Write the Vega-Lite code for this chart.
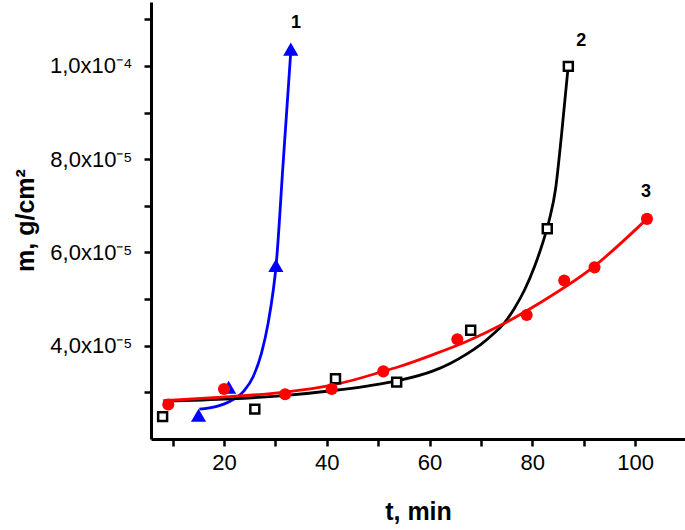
{
  "$schema": "https://vega.github.io/schema/vega-lite/v6.json",
  "width": 534,
  "height": 437,
  "autosize": {"type": "none"},
  "padding": {"left": 151, "top": 2, "right": 0, "bottom": 91},
  "background": "white",
  "config": {
    "view": {"stroke": null},
    "font": "Liberation Sans",
    "axis": {
      "grid": false,
      "domainColor": "black",
      "domainWidth": 3,
      "tickColor": "black",
      "tickWidth": 2.5,
      "tickSize": 7,
      "labelColor": "black",
      "labelFont": "Liberation Sans",
      "labelFontSize": 22,
      "titleFont": "Liberation Sans",
      "titleFontWeight": "bold",
      "titleColor": "black",
      "titleFontSize": 25
    }
  },
  "datasets": {
    "points": [
      {"series": "1", "t": 15.05, "m": 2.51e-5},
      {"series": "1", "t": 20.9, "m": 3.11e-5},
      {"series": "1", "t": 30.1, "m": 5.72e-5},
      {"series": "1", "t": 33.0, "m": 1.036e-4},
      {"series": "2", "t": 8.06, "m": 2.48e-5},
      {"series": "2", "t": 26.0, "m": 2.64e-5},
      {"series": "2", "t": 41.7, "m": 3.29e-5},
      {"series": "2", "t": 53.6, "m": 3.22e-5},
      {"series": "2", "t": 68.0, "m": 4.33e-5},
      {"series": "2", "t": 82.9, "m": 6.51e-5},
      {"series": "2", "t": 87.0, "m": 9.99e-5},
      {"series": "3", "t": 9.16, "m": 2.74e-5},
      {"series": "3", "t": 20.0, "m": 3.07e-5},
      {"series": "3", "t": 31.9, "m": 2.96e-5},
      {"series": "3", "t": 40.96, "m": 3.07e-5},
      {"series": "3", "t": 51.0, "m": 3.45e-5},
      {"series": "3", "t": 65.4, "m": 4.14e-5},
      {"series": "3", "t": 78.9, "m": 4.66e-5},
      {"series": "3", "t": 86.2, "m": 5.40e-5},
      {"series": "3", "t": 92.1, "m": 5.68e-5},
      {"series": "3", "t": 102.3, "m": 6.72e-5}
    ],
    "curves": [
      {"series": "1", "t": 15.2, "m": 2.64e-5},
      {"series": "1", "t": 18.6, "m": 2.70e-5},
      {"series": "1", "t": 21.2, "m": 2.81e-5},
      {"series": "1", "t": 23.8, "m": 3.02e-5},
      {"series": "1", "t": 25.7, "m": 3.34e-5},
      {"series": "1", "t": 27.3, "m": 3.84e-5},
      {"series": "1", "t": 28.6, "m": 4.49e-5},
      {"series": "1", "t": 29.6, "m": 5.20e-5},
      {"series": "1", "t": 30.1, "m": 5.67e-5},
      {"series": "1", "t": 31.5, "m": 7.90e-5},
      {"series": "1", "t": 33.0, "m": 1.031e-4},
      {"series": "2", "t": 8.2, "m": 2.81e-5},
      {"series": "2", "t": 21.2, "m": 2.86e-5},
      {"series": "2", "t": 31.5, "m": 2.93e-5},
      {"series": "2", "t": 41.3, "m": 3.04e-5},
      {"series": "2", "t": 47.5, "m": 3.13e-5},
      {"series": "2", "t": 54.3, "m": 3.26e-5},
      {"series": "2", "t": 60.7, "m": 3.46e-5},
      {"series": "2", "t": 64.0, "m": 3.62e-5},
      {"series": "2", "t": 67.2, "m": 3.82e-5},
      {"series": "2", "t": 70.0, "m": 4.03e-5},
      {"series": "2", "t": 72.5, "m": 4.26e-5},
      {"series": "2", "t": 74.4, "m": 4.47e-5},
      {"series": "2", "t": 76.5, "m": 4.80e-5},
      {"series": "2", "t": 78.5, "m": 5.20e-5},
      {"series": "2", "t": 80.5, "m": 5.72e-5},
      {"series": "2", "t": 82.0, "m": 6.20e-5},
      {"series": "2", "t": 83.3, "m": 6.70e-5},
      {"series": "2", "t": 84.5, "m": 7.35e-5},
      {"series": "2", "t": 85.7, "m": 8.55e-5},
      {"series": "2", "t": 86.9, "m": 9.91e-5},
      {"series": "3", "t": 8.2, "m": 2.82e-5},
      {"series": "3", "t": 21.2, "m": 2.91e-5},
      {"series": "3", "t": 31.5, "m": 3.00e-5},
      {"series": "3", "t": 41.3, "m": 3.16e-5},
      {"series": "3", "t": 51.0, "m": 3.45e-5},
      {"series": "3", "t": 54.3, "m": 3.56e-5},
      {"series": "3", "t": 60.7, "m": 3.81e-5},
      {"series": "3", "t": 67.2, "m": 4.09e-5},
      {"series": "3", "t": 74.4, "m": 4.47e-5},
      {"series": "3", "t": 81.5, "m": 4.92e-5},
      {"series": "3", "t": 91.2, "m": 5.63e-5},
      {"series": "3", "t": 102.3, "m": 6.72e-5}
    ],
    "labels": [
      {"series": "1", "t": 34.0, "m": 1.092e-4},
      {"series": "2", "t": 89.5, "m": 1.054e-4},
      {"series": "3", "t": 102.1, "m": 7.3e-5}
    ]
  },
  "encoding": {
    "x": {
      "field": "t",
      "type": "quantitative",
      "scale": {"domain": [5.8, 109.7], "nice": false, "zero": false},
      "axis": {
        "title": "t, min",
        "values": [10, 20, 30, 40, 50, 60, 70, 80, 90, 100],
        "labelExpr": "datum.value % 20 == 0 ? datum.label : ''",
        "labelPadding": 6,
        "titleX": 267,
        "titleY": 80,
        "titleBaseline": "alphabetic"
      }
    },
    "y": {
      "field": "m",
      "type": "quantitative",
      "scale": {"domain": [2.0e-5, 1.137e-4], "nice": false, "zero": false},
      "axis": {
        "title": "m, g/cm²",
        "values": [3e-5, 4e-5, 5e-5, 6e-5, 7e-5, 8e-5, 9e-5, 1e-4, 1.1e-4],
        "labelExpr": "round(datum.value*1e5) == 10 ? '1,0x10⁻⁴' : (round(datum.value*1e5) % 2 == 0 ? round(datum.value*1e5) + ',0x10⁻⁵' : '')",
        "labelPadding": 12,
        "titleAngle": -90,
        "titleX": -118,
        "titleY": 218,
        "titleAlign": "center",
        "titleBaseline": "alphabetic"
      }
    },
    "color": {
      "field": "series",
      "type": "nominal",
      "scale": {"domain": ["1", "2", "3"], "range": ["#0000FF", "#000000", "#FF0000"]},
      "legend": null
    }
  },
  "layer": [
    {
      "data": {"name": "curves"},
      "mark": {"type": "line", "interpolate": "monotone", "strokeWidth": 2.8},
      "encoding": {"detail": {"field": "series"}}
    },
    {
      "data": {"name": "points"},
      "transform": [{"filter": "datum.series == '1'"}],
      "mark": {"type": "point", "shape": "triangle-up", "filled": true, "size": 230, "opacity": 1}
    },
    {
      "data": {"name": "points"},
      "transform": [{"filter": "datum.series == '2'"}],
      "mark": {"type": "point", "shape": "square", "filled": false, "fill": "white", "fillOpacity": 1, "size": 80, "strokeWidth": 2.5, "opacity": 1}
    },
    {
      "data": {"name": "points"},
      "transform": [{"filter": "datum.series == '3'"}],
      "mark": {"type": "point", "shape": "circle", "filled": true, "size": 145, "opacity": 1}
    },
    {
      "data": {"name": "labels"},
      "mark": {"type": "text", "fontWeight": "bold", "fontSize": 18, "font": "Liberation Sans", "baseline": "middle", "align": "center"},
      "encoding": {"text": {"field": "series"}, "color": {"value": "black"}}
    }
  ]
}
